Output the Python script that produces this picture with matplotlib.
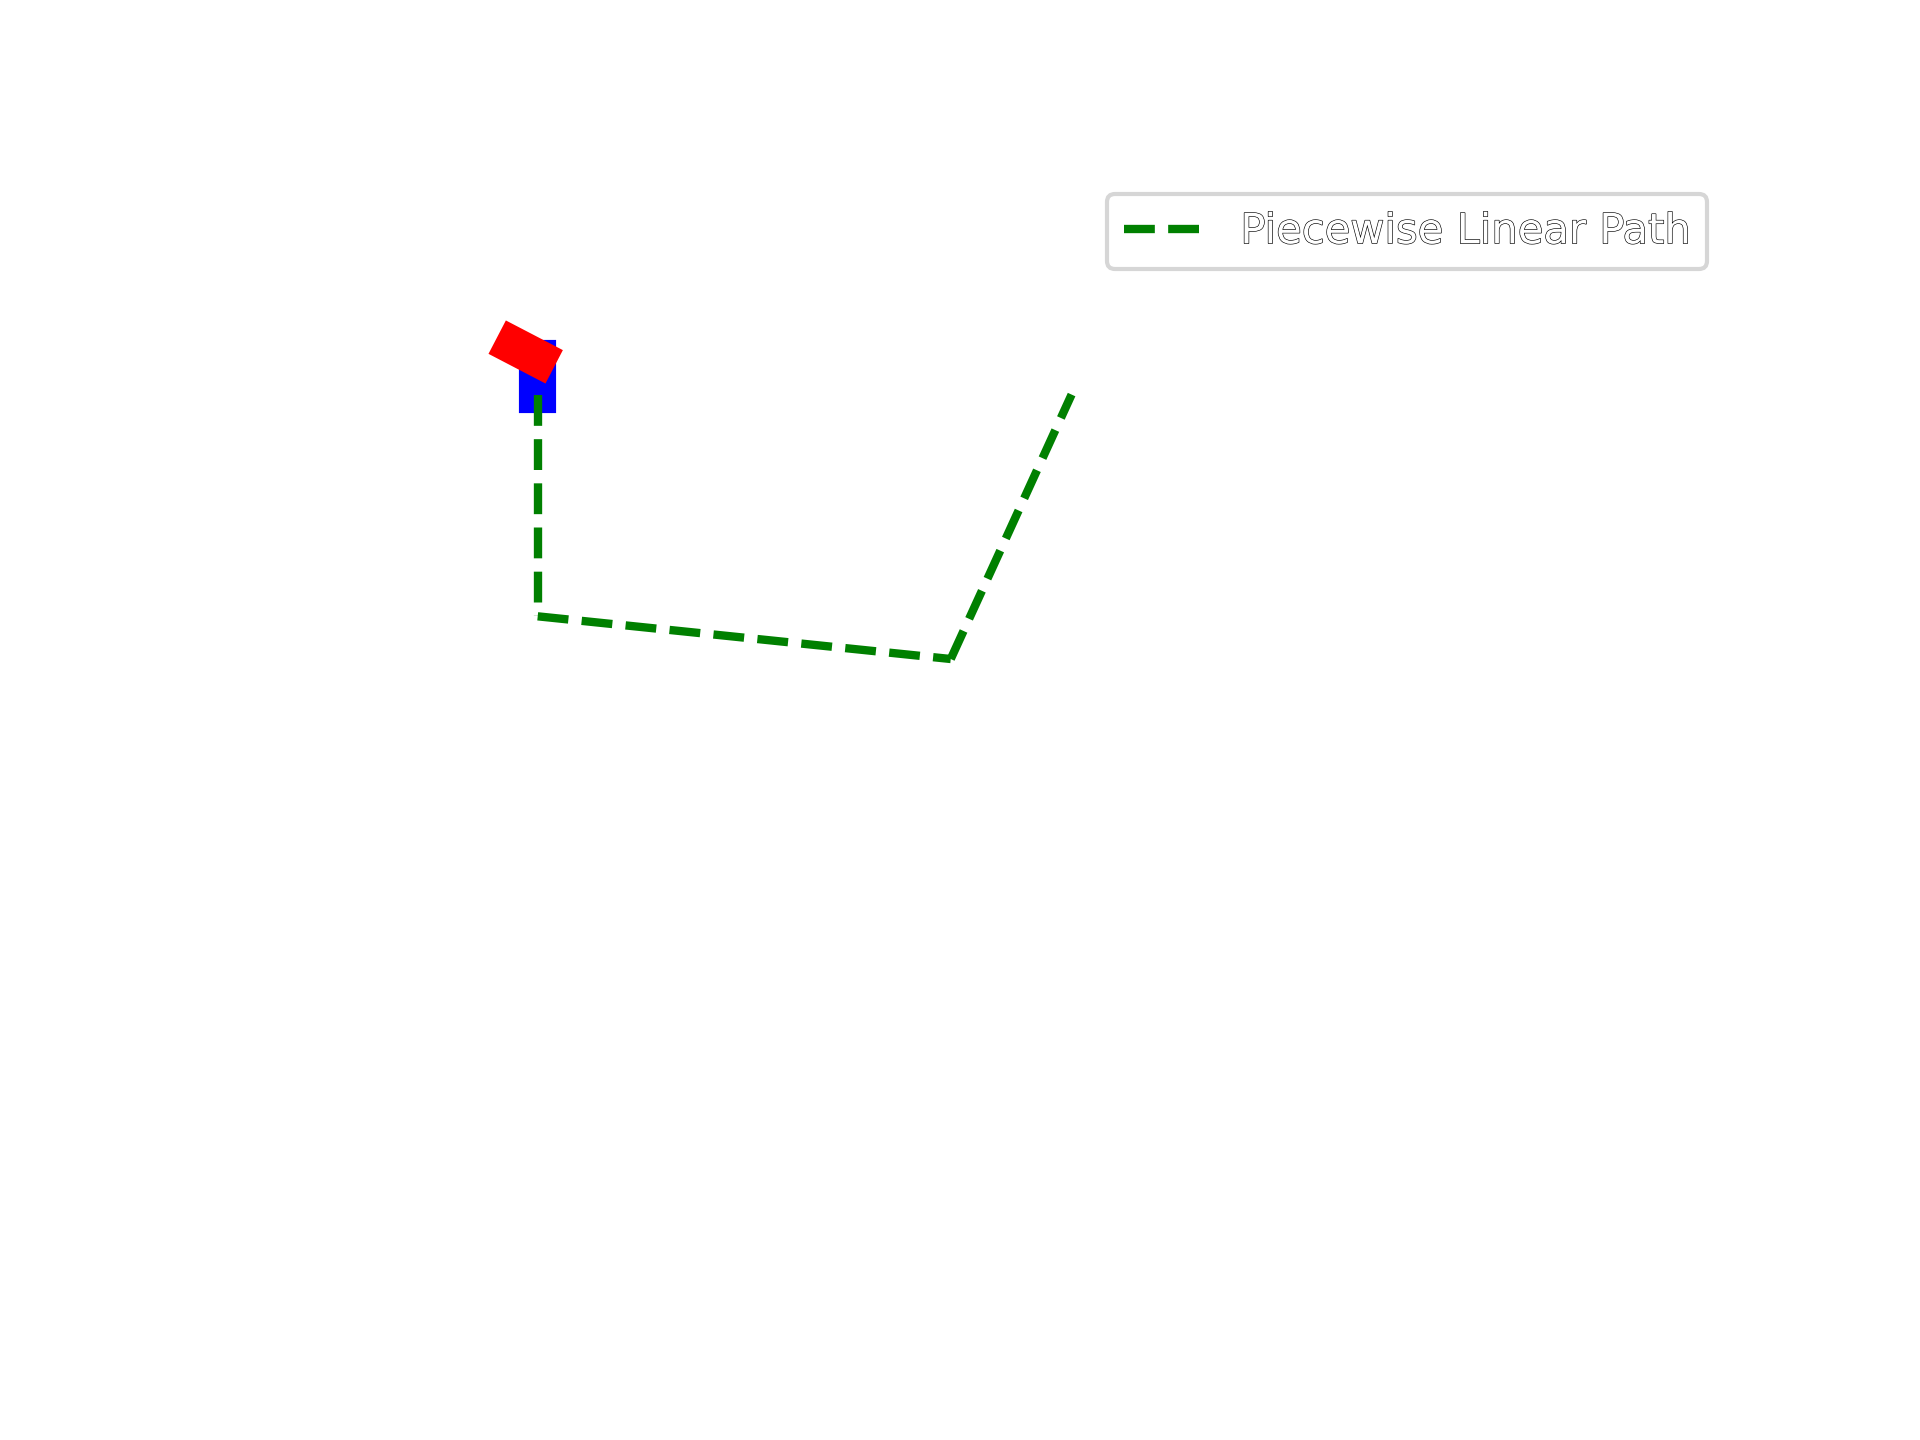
import matplotlib
matplotlib.use("Agg")
import matplotlib.pyplot as plt
import matplotlib.patheffects as pe
from matplotlib.patches import Rectangle

# Path waypoints
path_x = [5.37, 5.37, 12.82, 15.0]
path_y = [16.0, 12.0, 11.23, 16.0]

# Vehicle body (blue) and rotated part (red)
body_center = (5.37, 16.33)
body_size = (0.60, 1.25)
head_center = (5.153, 16.768)
head_size = (1.084, 0.604)
head_angle = -27.5

fig, ax = plt.subplots(figsize=(6.4, 4.8), dpi=300)

ax.add_patch(Rectangle((body_center[0] - body_size[0] / 2, body_center[1] - body_size[1] / 2),
                       body_size[0], body_size[1], color="blue"))
ax.add_patch(Rectangle((head_center[0] - head_size[0] / 2, head_center[1] - head_size[1] / 2),
                       head_size[0], head_size[1], angle=head_angle,
                       rotation_point="center", color="red"))

# each segment drawn separately (dash pattern restarts at each waypoint)
for i in range(len(path_x) - 1):
    ax.plot(path_x[i:i + 2], path_y[i:i + 2], "--", color="green", lw=2,
            label="Piecewise Linear Path" if i == 0 else None)

ax.set_xlim(0, 26.84)
ax.set_ylim(0, 20)
ax.axis("off")

leg = ax.legend(loc="upper right")
for t in leg.get_texts():
    t.set_color("white")
    t.set_path_effects([pe.withStroke(linewidth=0.3, foreground="black")])

fig.savefig("out.png", dpi=300)
